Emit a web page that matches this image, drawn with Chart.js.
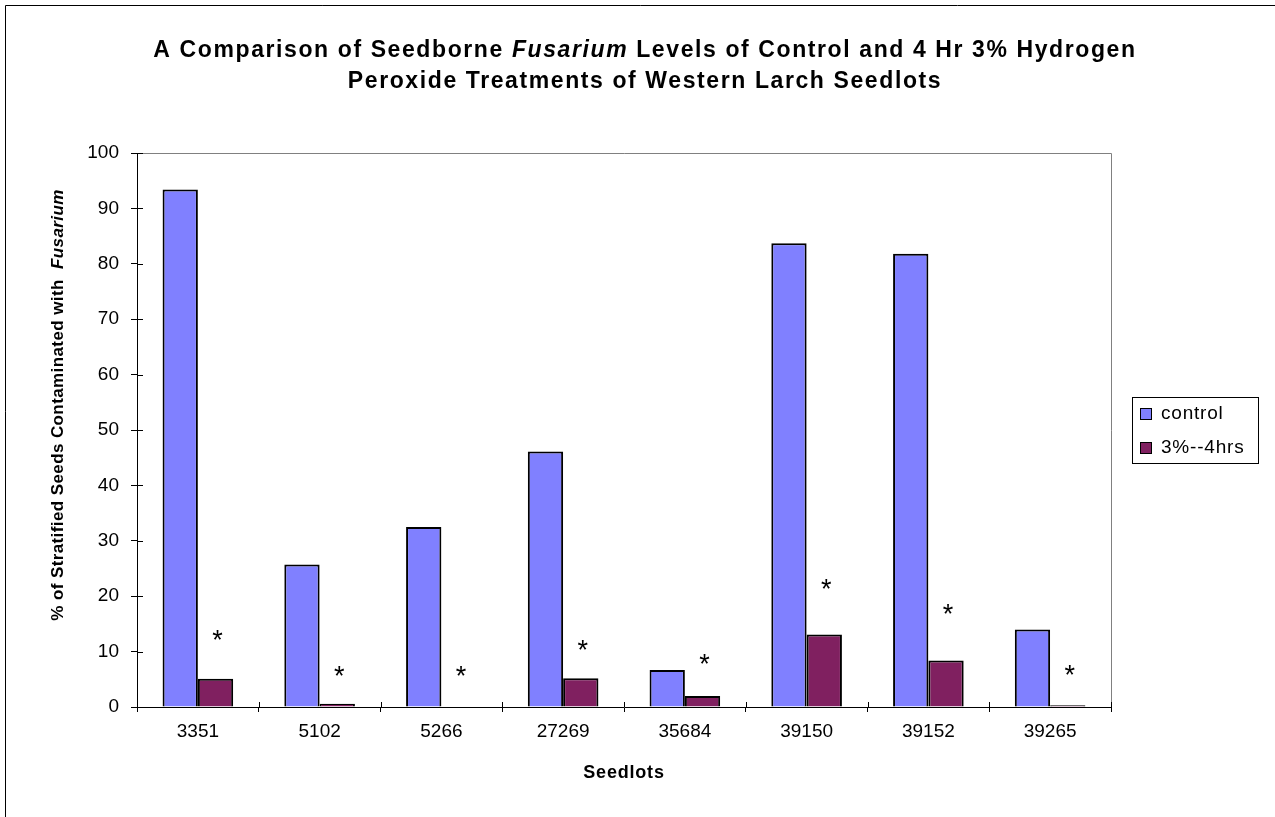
<!DOCTYPE html>
<html>
<head>
<meta charset="utf-8">
<script src="https://cdn.jsdelivr.net/npm/chart.js@4.4.1/dist/chart.umd.min.js"></script>
<style>
  html, body { margin: 0; padding: 0; background: #fff; }
  canvas { display: block; }
</style>
</head>
<body>
<canvas id="chart" width="1275" height="817"></canvas>
<script>
// values
const seedlots = ['3351', '5102', '5266', '27269', '35684', '39150', '39152', '39265'];
const controlValues = [93.4, 25.7, 32.5, 46.1, 6.7, 83.7, 81.8, 14.0];
const treatedValues = [5.1, 0.6, 0, 5.2, 2.0, 13.1, 8.4, 0.3];
const asteriskLevels = [13.3, 6.7, 6.7, 11.4, 9.0, 22.5, 17.9, 6.9];
const seriesNames = ['control', '3%--4hrs'];
const seriesColors = ['#8080FF', '#802060'];

const FONT = '"Liberation Sans", Arial, sans-serif';

// draw a line made of differently styled pieces, centred on cx
function drawMixed(ctx, parts, cx, y, spacing) {
    ctx.letterSpacing = spacing + 'px';
    let total = 0;
    parts.forEach(p => { ctx.font = p[1]; total += ctx.measureText(p[0]).width; });
    let x = cx - total / 2;
    ctx.textAlign = 'left';
    parts.forEach(p => {
        ctx.font = p[1];
        ctx.fillText(p[0], x, y);
        x += ctx.measureText(p[0]).width;
    });
    ctx.letterSpacing = '0px';
}

const decorations = {
    id: 'decorations',
    beforeDraw(chart) {
        const ctx = chart.ctx;
        ctx.save();
        ctx.fillStyle = '#fff';
        ctx.fillRect(0, 0, chart.width, chart.height);
        // outer frame (top and left)
        ctx.strokeStyle = '#000';
        ctx.lineWidth = 1;
        ctx.beginPath();
        ctx.moveTo(5.5, chart.height);
        ctx.lineTo(5.5, 5.5);
        ctx.lineTo(chart.width, 5.5);
        ctx.stroke();
        ctx.restore();
    },
    afterDraw(chart) {
        const ctx = chart.ctx;
        const area = chart.chartArea;
        const xs = chart.scales.x;
        const ys = chart.scales.y;
        ctx.save();

        // grey top/right frame of the plot area
        ctx.strokeStyle = '#808080';
        ctx.lineWidth = 1;
        ctx.beginPath();
        ctx.moveTo(area.left, area.top + 0.5);
        ctx.lineTo(area.right + 0.5, area.top + 0.5);
        ctx.lineTo(area.right + 0.5, area.bottom);
        ctx.stroke();

        // inner halves of the tick marks
        ctx.strokeStyle = '#000';
        ctx.beginPath();
        ys.ticks.forEach(t => {
            const y = Math.round(ys.getPixelForValue(t.value)) + 0.5;
            ctx.moveTo(area.left, y);
            ctx.lineTo(area.left + 6, y);
        });
        for (let i = 0; i <= seedlots.length; i++) {
            const x = Math.round(xs.getPixelForValue(i - 0.5)) + 0.5;
            ctx.moveTo(x, area.bottom);
            ctx.lineTo(x, area.bottom - 5);
        }
        ctx.stroke();

        // significance asterisks above the treated bars
        ctx.fillStyle = '#000';
        ctx.font = '27px ' + FONT;
        ctx.textAlign = 'center';
        ctx.textBaseline = 'alphabetic';
        const meta = chart.getDatasetMeta(1);
        asteriskLevels.forEach((v, i) => {
            const x = meta.data[i].x + 2;
            const y = ys.getPixelForValue(v) + 0.575 * 27;
            ctx.fillText('*', x, y);
        });

        // title
        ctx.textBaseline = 'alphabetic';
        const b = 'bold 23px ' + FONT;
        const bi = 'italic bold 23px ' + FONT;
        drawMixed(ctx, [['A Comparison of Seedborne ', b], ['Fusarium', bi],
            [' Levels of Control and 4 Hr 3% Hydrogen', b]], 645, 57, 1.6);
        drawMixed(ctx, [['Peroxide Treatments of Western Larch Seedlots', b]], 645, 88, 1.6);

        // axis titles
        ctx.textAlign = 'center';
        drawMixed(ctx, [['Seedlots', 'bold 18px ' + FONT]], (area.left + area.right) / 2, 778, 0.8);

        ctx.save();
        ctx.translate(63, 405);
        ctx.rotate(-Math.PI / 2);
        drawMixed(ctx, [['% of Stratified Seeds Contaminated with  ', 'bold 17px ' + FONT],
            ['Fusarium', 'italic bold 17px ' + FONT]], 0, 0, 0.4);
        ctx.restore();

        // legend
        const lx = 1132, ly = 397, lw = 126, lh = 66;
        ctx.strokeStyle = '#000';
        ctx.lineWidth = 1;
        ctx.strokeRect(lx + 0.5, ly + 0.5, lw, lh);
        ctx.textBaseline = 'middle';
        seriesNames.forEach((name, i) => {
            const cy = 413 + i * 34;
            ctx.fillStyle = seriesColors[i];
            ctx.fillRect(1140, cy - 5, 11, 11);
            ctx.strokeStyle = '#000';
            ctx.strokeRect(1140.5, cy - 4.5, 11, 11);
            ctx.fillStyle = '#000';
            ctx.font = '19px ' + FONT;
            ctx.letterSpacing = '0.8px';
            ctx.textAlign = 'left';
            ctx.fillText(name, 1161, cy + 1);
            ctx.letterSpacing = '0px';
        });
        ctx.restore();
    }
};

new Chart(document.getElementById('chart').getContext('2d'), {
    type: 'bar',
    data: {
        labels: seedlots,
        datasets: [
            {
                label: seriesNames[0],
                data: controlValues,
                backgroundColor: seriesColors[0],
                borderColor: '#000',
                borderWidth: 2
            },
            {
                label: seriesNames[1],
                data: treatedValues,
                backgroundColor: seriesColors[1],
                borderColor: '#000',
                borderWidth: 2
            }
        ]
    },
    options: {
        responsive: false,
        animation: false,
        devicePixelRatio: 1,
        layout: { padding: { left: 0, top: 153, right: 164, bottom: 0 } },
        datasets: { bar: { categoryPercentage: 0.58, barPercentage: 1.0 } },
        plugins: {
            legend: { display: false },
            title: { display: false },
            tooltip: { enabled: false }
        },
        scales: {
            x: {
                afterFit: s => { s.height = 110; },
                grid: { offset: true, drawOnChartArea: false, drawTicks: true, tickLength: 5, color: '#000' },
                border: { display: true, color: '#000', width: 1 },
                ticks: { color: '#000', font: { family: FONT, size: 19 }, padding: 8, maxRotation: 0 }
            },
            y: {
                min: 0,
                max: 100,
                afterFit: s => { s.width = 137; },
                grid: { drawOnChartArea: false, drawTicks: true, tickLength: 6, color: '#000' },
                border: { display: true, color: '#000', width: 1 },
                ticks: { stepSize: 10, color: '#000', font: { family: FONT, size: 19 }, padding: 12 }
            }
        }
    },
    plugins: [decorations]
});
</script>
</body>
</html>
